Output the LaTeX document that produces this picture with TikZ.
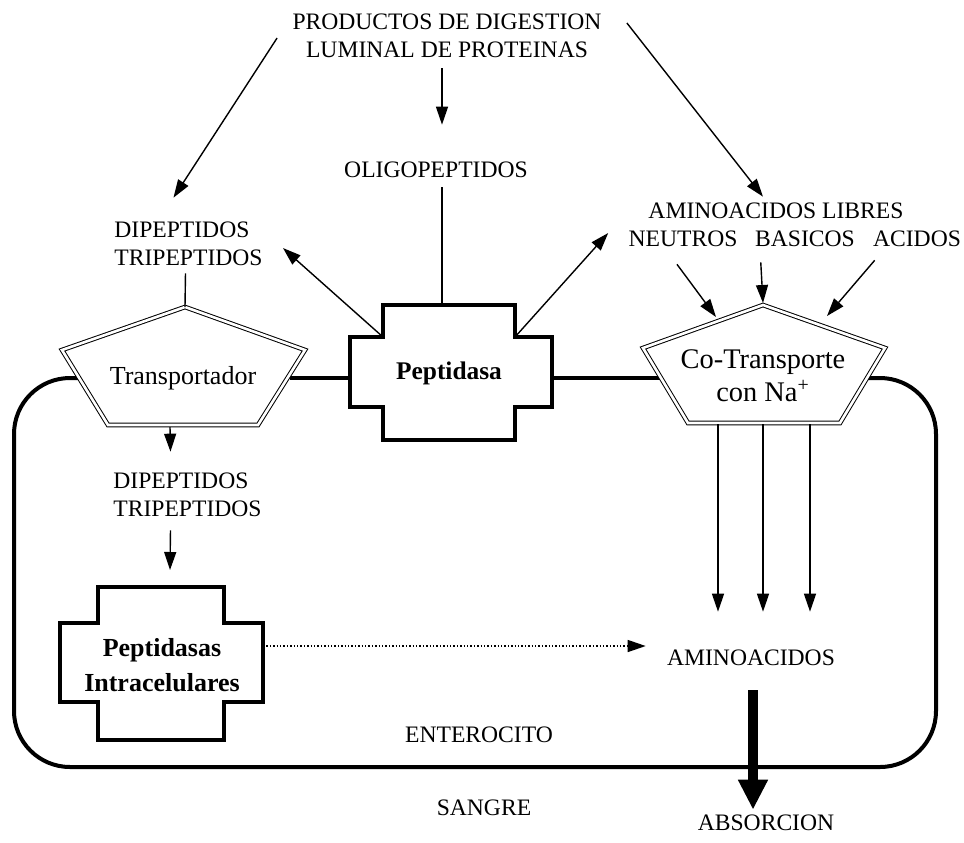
\documentclass[tikz,border=0pt]{standalone}
\usepackage{fontspec}
\setmainfont{Liberation Serif}
\usetikzlibrary{arrows.meta,calc}

\begin{document}
\begin{tikzpicture}[x=0.5pt,y=-0.5pt,
  every node/.style={inner sep=0pt,font=\fontsize{11.8}{14}\selectfont},
  flow/.style={draw=black,line width=0.7pt,-{Triangle[length=9pt,width=6pt]}},
  plain/.style={draw=black,line width=0.7pt},
  memb/.style={draw=black,line width=2pt},
  carrier/.style={draw=black,fill=white,double=white,double distance=1.3pt,line width=0.5pt,line join=miter},
  enzyme/.style={draw=black,fill=white,line width=2pt}]
\useasboundingbox (0,0) rectangle (964,842);
\draw [memb] (290,378) -- (700,378);
\draw [memb,rounded corners=28pt] (860,378) -- (936,378) -- (936,767) -- (14,767) -- (14,378) -- (100,378);
\draw [carrier] (185,307) -- (305,350) -- (258,425) -- (108,425) -- (62,350) -- cycle;
\draw [carrier] (763,305) -- (885,348) -- (840,423) -- (688,423) -- (643,348) -- cycle;
\draw [enzyme] (383,305) -- (515,305) -- (515,337) -- (552,337) -- (552,407) -- (515,407) -- (515,440) -- (383,440) -- (383,407) -- (350,407) -- (350,337) -- (383,337) -- cycle;
\draw [enzyme] (98,587) -- (224,587) -- (224,623) -- (263,623) -- (263,702) -- (224,702) -- (224,740) -- (98,740) -- (98,702) -- (60,702) -- (60,623) -- (98,623) -- cycle;
\coordinate (trTop) at (185,307);
\coordinate (trBot) at (170,427);
\coordinate (pepTop) at (442,305);
\coordinate (pepUL) at (383,337);
\coordinate (pepUR) at (515,337);
\coordinate (ctNeu) at (716,317);
\coordinate (ctBas) at (763,303);
\coordinate (ctAci) at (827,316);
\coordinate (ctOut1) at (718,424);
\coordinate (ctOut2) at (763,424);
\coordinate (ctOut3) at (810,424);
\coordinate (ipTop) at (170,587);
\coordinate (ipRight) at (263,646);
\node [align=center] (title) at (447,36) {PRODUCTOS DE DIGESTION\\LUMINAL DE PROTEINAS};
\node (oligo) at (436,170) {OLIGOPEPTIDOS};
\node [align=left,anchor=west] (dipepA) at (114,244) {DIPEPTIDOS\\TRIPEPTIDOS};
\node (libres) at (776,211) {AMINOACIDOS LIBRES};
\node (neutros) at (683,239) {NEUTROS};
\node (basicos) at (805,239) {BASICOS};
\node (acidos) at (917,239) {ACIDOS};
\node [align=left,anchor=west] (dipepB) at (113,495) {DIPEPTIDOS\\TRIPEPTIDOS};
\node (amino) at (751,658) {AMINOACIDOS};
\node (entero) at (479,735) {ENTEROCITO};
\node (sangre) at (484,808) {SANGRE};
\node (absorc) at (766,823) {ABSORCION};
\node [font=\fontsize{13}{15}\selectfont] (transp) at (183,378) {Transportador};
\node [align=center,font=\fontsize{14.2}{16.5}\selectfont] (cotransp) at (763,376) {Co-Transporte\\con Na\textsuperscript{+}};
\node [font=\bfseries\fontsize{12.7}{15}\selectfont] (pep) at (449,373) {Peptidasa};
\node [align=center,font=\bfseries\fontsize{13}{17.5}\selectfont] (intra) at (162,665) {Peptidasas\\Intracelulares};
\draw [flow] ($(title.west)+(-15,2)$) -- ($(dipepA.north)+(-15,-24)$);
\draw [flow] ($(title.south)+(-5,10)$) -- ($(oligo.north)+(6,-37)$);
\draw [flow] ($(title.east)+(25,-13)$) -- ($(libres.north)+(-13,-6)$);
\draw [plain] ($(oligo.south)+(6,9)$) -- (pepTop);
\draw [flow] (pepUL) -- ($(dipepA.east)+(20,4)$);
\draw [flow] (pepUR) -- ($(neutros.west)+(-20,-6)$);
\draw [plain] ($(dipepA.south)+(-3,7)$) -- (trTop);
\draw [flow] ($(neutros.south)+(-6,17)$) -- (ctNeu);
\draw [flow] ($(basicos.south west)+(6,15)$) -- (ctBas);
\draw [flow] ($(acidos.south west)+(2,13)$) -- (ctAci);
\draw [flow] (ctOut1) -- ($(amino.north)+(-33,-38)$);
\draw [flow] (ctOut2) -- ($(amino.north)+(12,-38)$);
\draw [flow] (ctOut3) -- ($(amino.north)+(59,-38)$);
\draw [flow] (trBot) -- ($(dipepB.north)+(-17,-21)$);
\draw [flow] ($(dipepB.south)+(-17,13)$) -- ($(ipTop)+(0,-17)$);
\draw [flow,densely dotted] (ipRight) -- ($(amino.west)+(-21,-12)$);
\draw [draw=black,line width=5pt,-{Triangle[length=15pt,width=14pt]}] ($(amino.south)+(2,24)$) -- ($(absorc.north)+(-13,-5)$);
\end{tikzpicture}
\end{document}
